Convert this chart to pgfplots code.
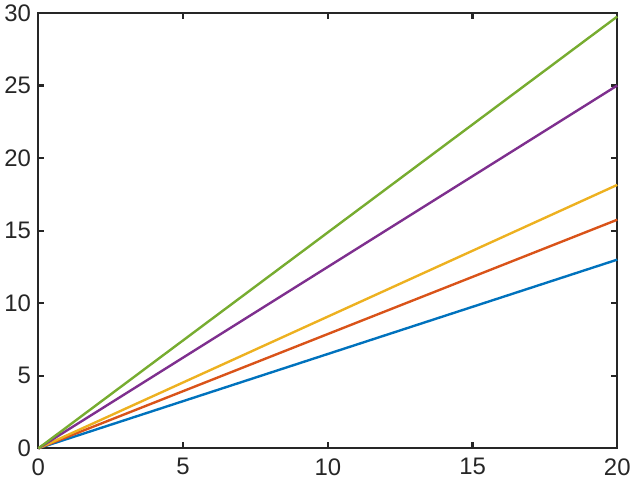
\documentclass[border=0pt]{standalone}
\usepackage{fontspec}
\setmainfont{Liberation Sans}
\usepackage{pgfplots}
\pgfplotsset{compat=1.18}
\definecolor{mblue}{rgb}{0,0.447,0.741}
\definecolor{morange}{rgb}{0.85,0.325,0.098}
\definecolor{myellow}{rgb}{0.929,0.694,0.125}
\definecolor{mpurple}{rgb}{0.494,0.184,0.556}
\definecolor{mgreen}{rgb}{0.466,0.674,0.188}
\definecolor{axgray}{rgb}{0.15,0.15,0.15}
\begin{document}
\begin{tikzpicture}
\begin{axis}[
    scale only axis,
    width=435.75pt,
    height=327.75pt,
    xmin=0, xmax=20,
    ymin=0, ymax=30,
    xtick={0,5,...,20},
    ytick={0,5,...,30},
    tick align=inside,
    major tick length=4.5pt,
    axis line style={axgray, line width=1.6pt},
    every tick/.style={axgray, line width=1.6pt},
    tick label style={font=\fontsize{18}{21}\selectfont, text=axgray},
    /pgf/number format/assume math mode=true,
    xticklabel style={yshift=-4pt},
    yticklabel style={xshift=-2pt},
    clip=false,
]
\addplot[mblue, line width=1.8pt] coordinates {(0,0) (20,13)};
\addplot[morange, line width=1.8pt] coordinates {(0,0) (20,15.75)};
\addplot[myellow, line width=1.8pt] coordinates {(0,0) (20,18.15)};
\addplot[mpurple, line width=1.8pt] coordinates {(0,0) (20,25)};
\addplot[mgreen, line width=1.8pt] coordinates {(0,0) (20,29.75)};
\end{axis}
\end{tikzpicture}
\end{document}
